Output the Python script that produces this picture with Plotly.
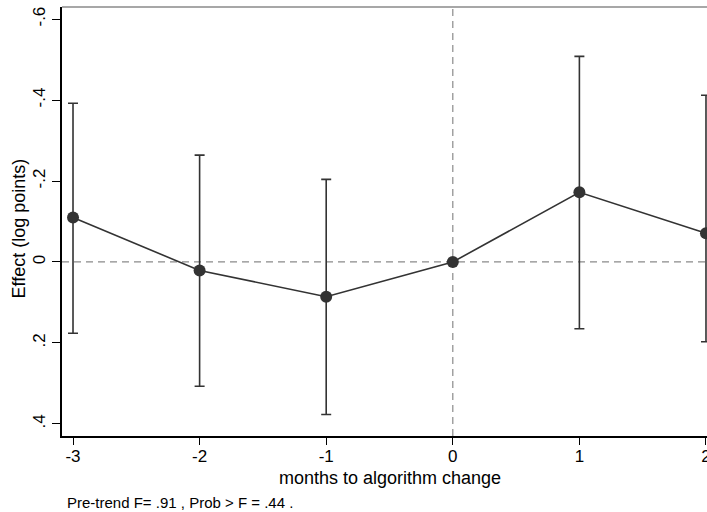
import plotly.graph_objects as go

# Event-study estimates by month relative to the algorithm change
months = [-3, -2, -1, 0, 1, 2]
effect = [-0.110, 0.021, 0.086, 0.0, -0.172, -0.071]
ci_low = [-0.392, -0.264, -0.204, 0.0, -0.508, -0.412]
ci_high = [0.176, 0.307, 0.377, 0.0, 0.165, 0.197]

y_tickvals = [-0.6, -0.4, -0.2, 0, 0.2, 0.4]
y_ticktext = ["-.6", "-.4", "-.2", "0", ".2", ".4"]
x_tickvals = [-3, -2, -1, 0, 1, 2]
x_ticktext = ["-3", "-2", "-1", "0", "1", "2"]

note_text = "Pre-trend F= .91 , Prob > F = .44 ."
x_title = "months to algorithm change"
y_title = "Effect (log points)"

FONT = "Liberation Sans, Arial, Helvetica, sans-serif"
INK = "#333333"
GRAY = "#8a8a8a"

# plot-region geometry in pixels
L, T, W, H = 62, 7, 645, 429

err_plus = [h - e for h, e in zip(ci_high, effect)]
err_minus = [e - l for e, l in zip(effect, ci_low)]

fig = go.Figure()

# reference lines at zero
fig.add_hline(y=0, line=dict(color=GRAY, width=1.2, dash="7px,5px"), layer="below")
fig.add_vline(x=0, line=dict(color=GRAY, width=1.2, dash="7px,5px"), layer="below")

fig.add_trace(go.Scatter(
    x=months,
    y=effect,
    mode="lines+markers",
    line=dict(color=INK, width=1.6),
    marker=dict(color=INK, size=12),
    error_y=dict(
        type="data",
        symmetric=False,
        array=err_plus,
        arrayminus=err_minus,
        color=INK,
        thickness=1.6,
        width=5,
    ),
    cliponaxis=False,
    showlegend=False,
))

# gray outline along the top of the plot region
fig.add_shape(type="line", xref="paper", yref="paper", x0=0, x1=1, y0=1, y1=1,
              line=dict(color=GRAY, width=1.5))

# axis titles and footnote
fig.add_annotation(text=x_title, xref="paper", yref="paper",
                   x=(390 - L) / W, y=-(478 - (T + H)) / H,
                   xanchor="center", yanchor="middle", showarrow=False,
                   font=dict(family=FONT, size=18, color="#000000"))
fig.add_annotation(text=y_title, xref="paper", yref="paper", textangle=-90,
                   x=-(L - 18.5) / W, y=((T + H) - 228) / H,
                   xanchor="center", yanchor="middle", showarrow=False,
                   font=dict(family=FONT, size=18, color="#000000"))
fig.add_annotation(text=note_text, xref="paper", yref="paper",
                   x=-(L - 65) / W, y=-(503 - (T + H)) / H,
                   xanchor="left", yanchor="middle", showarrow=False,
                   font=dict(family=FONT, size=15, color="#000000"))

fig.update_layout(
    width=707,
    height=512,
    margin=dict(l=L, r=707 - L - W, t=T, b=512 - T - H, autoexpand=False),
    paper_bgcolor="white",
    plot_bgcolor="white",
    font=dict(family=FONT, size=17, color="#000000"),
)

fig.update_xaxes(
    range=[-3.087, 2.008],
    tickvals=x_tickvals,
    ticktext=x_ticktext,
    ticks="outside",
    ticklen=7,
    tickwidth=1.2,
    tickcolor="#000000",
    ticklabeloverflow="allow",
    ticklabelstandoff=-3,
    automargin=False,
    showline=True,
    linecolor="#000000",
    linewidth=1.5,
    showgrid=False,
    zeroline=False,
    tickfont=dict(family=FONT, size=17),
)

fig.update_yaxes(
    range=[0.43, -0.63],
    tickvals=y_tickvals,
    ticktext=y_ticktext,
    tickangle=-90,
    ticks="outside",
    ticklen=8,
    tickwidth=1.2,
    tickcolor="#000000",
    automargin=False,
    showline=True,
    linecolor="#000000",
    linewidth=1.5,
    showgrid=False,
    zeroline=False,
    tickfont=dict(family=FONT, size=17),
)

fig.write_html("out.html")
